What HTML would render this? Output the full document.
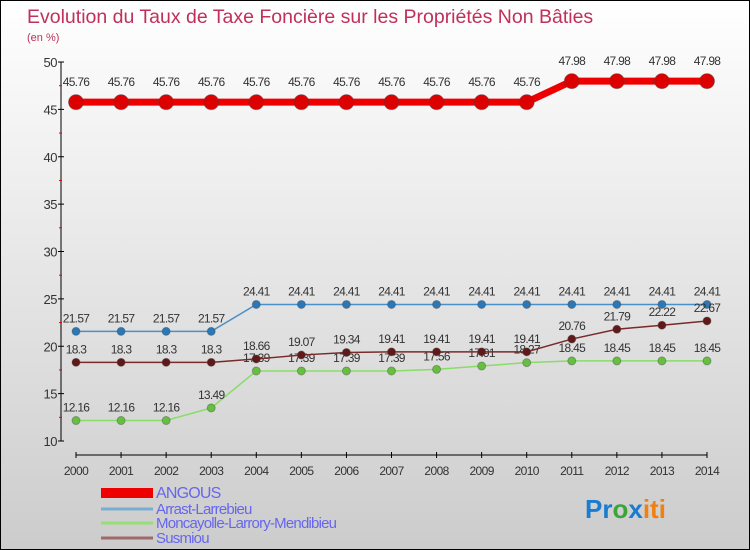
<!DOCTYPE html>
<html><head><meta charset="utf-8"><style>
body{margin:0}
#c{width:750px;height:550px;position:relative;box-sizing:border-box;border:1px solid #000;background:linear-gradient(#fff,#ccc);overflow:hidden;font-family:"Liberation Sans",sans-serif}
svg text{font-family:"Liberation Sans",sans-serif}
</style></head><body>
<div id="c">
<svg id="s" width="750" height="550">
<text x="26" y="22" font-size="19.5" fill="#c0305a">Evolution du Taux de Taxe Foncière sur les Propriétés Non Bâties</text>
<text x="26" y="40" font-size="11" fill="#c0305a">(en %)</text>
<g id="g"></g>
<text x="584" y="517" font-size="26" font-weight="bold"><tspan fill="#1a7cd0">Pr</tspan><tspan fill="#3aa63a">o</tspan><tspan fill="#1a7cd0">x</tspan><tspan fill="#f08010">iti</tspan></text>
</svg>
</div>
<script>
const years=[2000,2001,2002,2003,2004,2005,2006,2007,2008,2009,2010,2011,2012,2013,2014];
const yTicks=[10,15,20,25,30,35,40,45,50];
const angous=[45.76,45.76,45.76,45.76,45.76,45.76,45.76,45.76,45.76,45.76,45.76,47.98,47.98,47.98,47.98];
const arrast=[21.57,21.57,21.57,21.57,24.41,24.41,24.41,24.41,24.41,24.41,24.41,24.41,24.41,24.41,24.41];
const moncayolle=[12.16,12.16,12.16,13.49,17.39,17.39,17.39,17.39,17.56,17.91,18.27,18.45,18.45,18.45,18.45];
const susmiou=[18.3,18.3,18.3,18.3,18.66,19.07,19.34,19.41,19.41,19.41,19.41,20.76,21.79,22.22,22.67];
const names=["ANGOUS","Arrast-Larrebieu","Moncayolle-Larrory-Mendibieu","Susmiou"];
const X=i=>75+i*(631/14), Y=v=>61+(50-v)*(379/40);
const g=document.getElementById('g'),NS='http://www.w3.org/2000/svg';
function mk(t,a,p){const e=document.createElementNS(NS,t);for(const k in a)e.setAttribute(k,a[k]);(p||g).appendChild(e);return e;}
let e=mk('line',{x1:60,y1:61,x2:60,y2:440,stroke:'#000'});


yTicks.forEach(v=>{mk('line',{x1:57,x2:63,y1:Y(v),y2:Y(v),stroke:'#000'});
 const t=mk('text',{x:56,y:Y(v)+5,'text-anchor':'end','font-size':13,fill:'#333','letter-spacing':'-0.5'});t.textContent=v;
 
 
 if(v<50) mk('line',{x1:58,x2:61,y1:Y(v+2.5),y2:Y(v+2.5),stroke:'#e00'});});
e=mk('line',{x1:75,y1:454,x2:706,y2:454,stroke:'#000'});


years.forEach((y,i)=>{mk('line',{x1:X(i),x2:X(i),y1:451,y2:457,stroke:'#000'});
 const t=mk('text',{x:X(i),y:474,'text-anchor':'middle','font-size':12,fill:'#333','letter-spacing':'-0.6'});t.textContent=y;
 
 });
const series=[[arrast,'#4a90c8',1.5,4,'#2a78b8'],[moncayolle,'#88dd66',1.5,4,'#66c040'],[susmiou,'#7a2a2a',1.5,4,'#601818'],[angous,'#ee0000',7,7.5,'#dd0000']];
series.forEach(([d,c,w,r,fc],k)=>{
 const pl=mk('polyline',{points:d.map((v,i)=>X(i)+','+Y(v)).join(' '),fill:'none',stroke:c,'stroke-width':w});
 
 
 d.forEach((v,i)=>{const p=mk('circle',{cx:X(i),cy:Y(v),r:r,fill:fc,stroke:'#444','stroke-opacity':0.4});
  
  
  const t=mk('text',{x:X(i),y:Y(v)-9-(k==3?7:0),'text-anchor':'middle','font-size':12,fill:'#333','letter-spacing':'-0.7'});t.textContent=v;
  
  });
});
const lc=['#ee0000','#7aaed0','#99dd77','#a06a6a'];
const ly=[492,508,522,537];
names.forEach((n,i)=>{const y=ly[i];
 const l=mk('rect',{x:100,y:y-(i==0?5:1.5),width:52,height:i==0?10:3,fill:lc[i]});
 
 
 const t=mk('text',{x:155,y:y+5,'font-size':i==0?16:15,fill:'#6666ee','letter-spacing':'-0.8'});t.textContent=n;
 
 });
</script>
</body></html>
